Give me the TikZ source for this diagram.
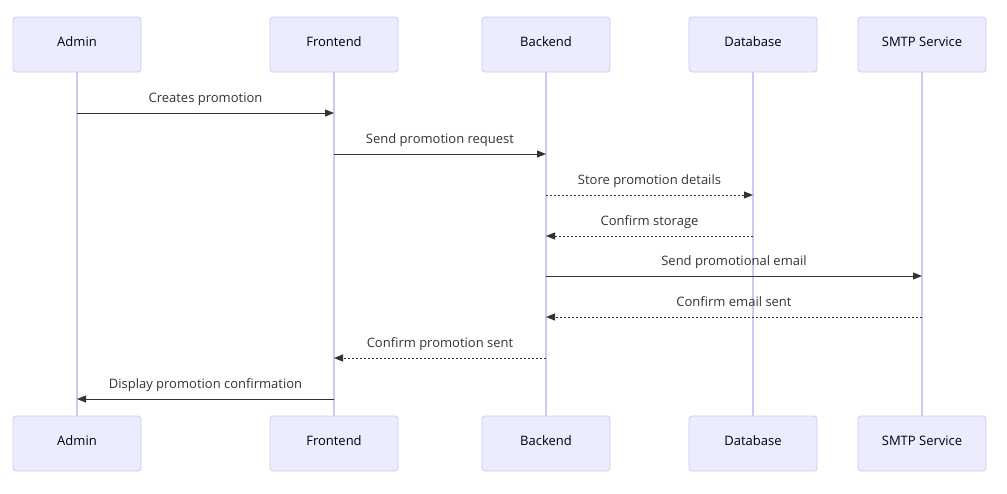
\documentclass[tikz,border=0pt]{standalone}
\usepackage{fontspec}
\setmainfont{Open Sans}
\usetikzlibrary{arrows.meta}
\definecolor{actfill}{HTML}{ECECFF}
\definecolor{actline}{HTML}{D3C6F2}
\definecolor{msg}{HTML}{333333}
\tikzset{
  actor/.style={draw=actline, fill=actfill, rounded corners=3pt, minimum width=128pt, minimum height=55pt, line width=0.8pt, font=\fontsize{13}{15}\selectfont, text=black, inner sep=0pt, text height=8pt, text depth=5pt},
  life/.style={draw=actline, line width=1.2pt},
  sync/.style={draw=msg, line width=1pt, -{Triangle[length=9pt,width=7pt]}},
  reply/.style={sync, dash pattern=on 2pt off 2pt},
  lbl/.style={font=\fontsize{13}{15}\selectfont, text=msg, anchor=base, inner sep=0pt, yshift=11pt},
}
\begin{document}
\begin{tikzpicture}[x=1pt,y=-1pt]
\useasboundingbox (0,0) rectangle (1007,493);
% lifelines
\foreach \n/\x in {a/77,f/334,b/546,d/753,s/922}{
  \coordinate (\n t) at (\x,72);
  \coordinate (\n b) at (\x,416);
}
\draw[life] (at) -- (ab);
\draw[life] (ft) -- (fb);
\draw[life] (bt) -- (bb);
\draw[life] (dt) -- (db);
\draw[life] (st) -- (sb);
% actors
\node[actor] (A1) at (77,44.5) {Admin};
\node[actor] (F1) at (334,44.5) {Frontend};
\node[actor] (B1) at (546,44.5) {Backend};
\node[actor] (D1) at (753,44.5) {Database};
\node[actor] (S1) at (922,44.5) {SMTP Service};
\node[actor] (A2) at (77,443.5) {Admin};
\node[actor] (F2) at (334,443.5) {Frontend};
\node[actor] (B2) at (546,443.5) {Backend};
\node[actor] (D2) at (753,443.5) {Database};
\node[actor] (S2) at (922,443.5) {SMTP Service};
% message points
\foreach \n/\x in {a/77,f/334,b/546,d/753,s/922}{
  \foreach \i/\y in {1/113,2/154,3/195,4/236,5/276,6/317,7/358,8/399}{
    \coordinate (\n\i) at (\x,\y);
  }
}
\draw[sync] (a1) -- node[lbl] {Creates promotion} (f1);
\draw[sync] (f2) -- node[lbl] {Send promotion request} (b2);
\draw[reply] (b3) -- node[lbl] {Store promotion details} (d3);
\draw[reply] (d4) -- node[lbl] {Confirm storage} (b4);
\draw[sync] (b5) -- node[lbl] {Send promotional email} (s5);
\draw[reply] (s6) -- node[lbl] {Confirm email sent} (b6);
\draw[reply] (b7) -- node[lbl] {Confirm promotion sent} (f7);
\draw[sync] (f8) -- node[lbl] {Display promotion confirmation} (a8);
\end{tikzpicture}
\end{document}
